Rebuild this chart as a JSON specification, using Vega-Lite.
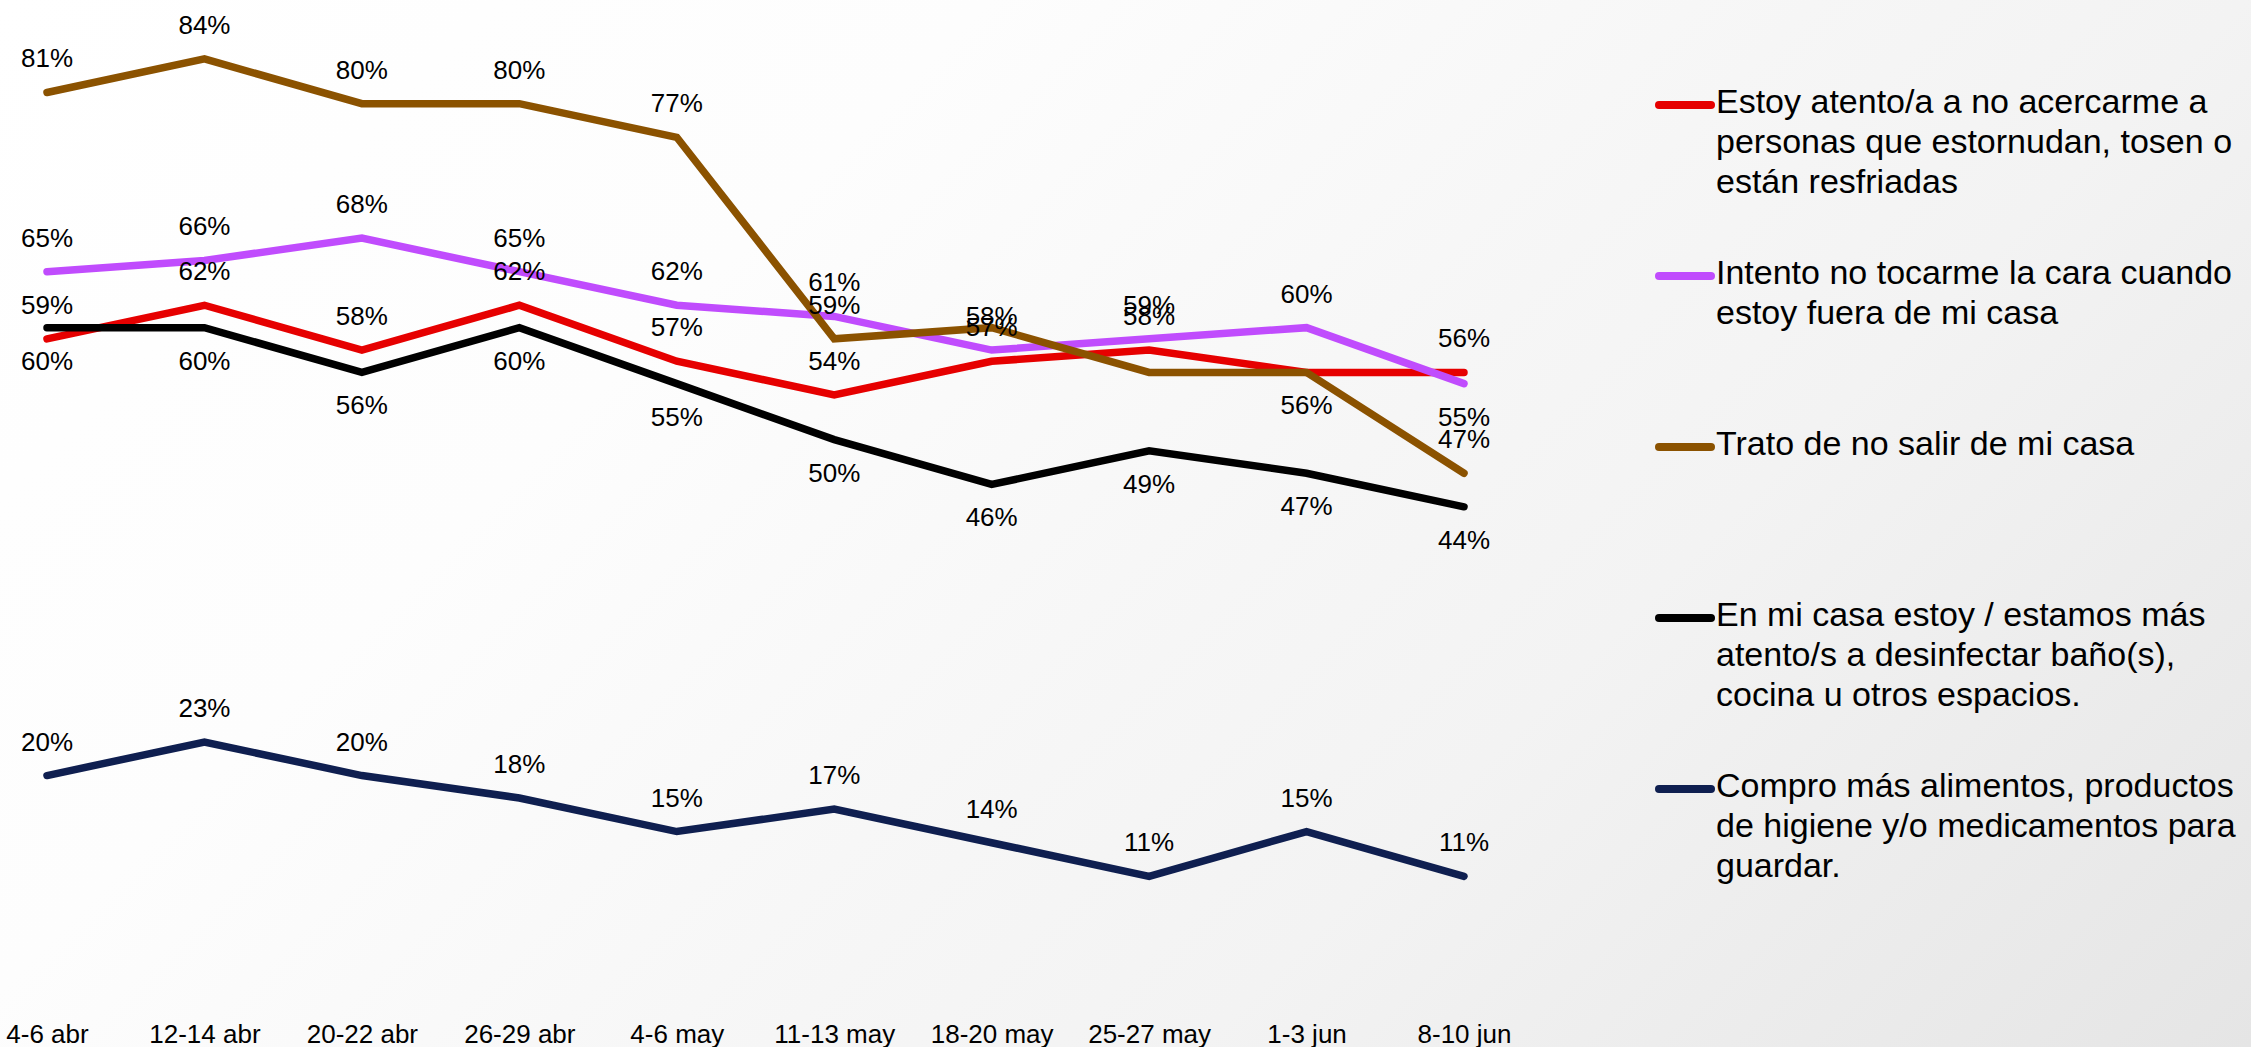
{
  "$schema": "https://vega.github.io/schema/vega-lite/v6.json",
  "width": 2251,
  "height": 1047,
  "autosize": {"type": "none"},
  "padding": 0,
  "background": "#ffffff",
  "config": {
    "view": {"stroke": null},
    "font": "Liberation Sans"
  },
  "datasets": {
    "series": [
      {"fecha": "4-6 abr", "serie": "Estoy atento/a a no acercarme a\npersonas que estornudan, tosen o\nestán resfriadas", "valor": 0.59},
      {"fecha": "12-14 abr", "serie": "Estoy atento/a a no acercarme a\npersonas que estornudan, tosen o\nestán resfriadas", "valor": 0.62},
      {"fecha": "20-22 abr", "serie": "Estoy atento/a a no acercarme a\npersonas que estornudan, tosen o\nestán resfriadas", "valor": 0.58},
      {"fecha": "26-29 abr", "serie": "Estoy atento/a a no acercarme a\npersonas que estornudan, tosen o\nestán resfriadas", "valor": 0.62},
      {"fecha": "4-6 may", "serie": "Estoy atento/a a no acercarme a\npersonas que estornudan, tosen o\nestán resfriadas", "valor": 0.57},
      {"fecha": "11-13 may", "serie": "Estoy atento/a a no acercarme a\npersonas que estornudan, tosen o\nestán resfriadas", "valor": 0.54},
      {"fecha": "18-20 may", "serie": "Estoy atento/a a no acercarme a\npersonas que estornudan, tosen o\nestán resfriadas", "valor": 0.57},
      {"fecha": "25-27 may", "serie": "Estoy atento/a a no acercarme a\npersonas que estornudan, tosen o\nestán resfriadas", "valor": 0.58},
      {"fecha": "1-3 jun", "serie": "Estoy atento/a a no acercarme a\npersonas que estornudan, tosen o\nestán resfriadas", "valor": 0.56},
      {"fecha": "8-10 jun", "serie": "Estoy atento/a a no acercarme a\npersonas que estornudan, tosen o\nestán resfriadas", "valor": 0.56},

      {"fecha": "4-6 abr", "serie": "Intento no tocarme la cara cuando\nestoy fuera de mi casa", "valor": 0.65},
      {"fecha": "12-14 abr", "serie": "Intento no tocarme la cara cuando\nestoy fuera de mi casa", "valor": 0.66},
      {"fecha": "20-22 abr", "serie": "Intento no tocarme la cara cuando\nestoy fuera de mi casa", "valor": 0.68},
      {"fecha": "26-29 abr", "serie": "Intento no tocarme la cara cuando\nestoy fuera de mi casa", "valor": 0.65},
      {"fecha": "4-6 may", "serie": "Intento no tocarme la cara cuando\nestoy fuera de mi casa", "valor": 0.62},
      {"fecha": "11-13 may", "serie": "Intento no tocarme la cara cuando\nestoy fuera de mi casa", "valor": 0.61},
      {"fecha": "18-20 may", "serie": "Intento no tocarme la cara cuando\nestoy fuera de mi casa", "valor": 0.58},
      {"fecha": "25-27 may", "serie": "Intento no tocarme la cara cuando\nestoy fuera de mi casa", "valor": 0.59},
      {"fecha": "1-3 jun", "serie": "Intento no tocarme la cara cuando\nestoy fuera de mi casa", "valor": 0.60},
      {"fecha": "8-10 jun", "serie": "Intento no tocarme la cara cuando\nestoy fuera de mi casa", "valor": 0.55},

      {"fecha": "4-6 abr", "serie": "Trato de no salir de mi casa", "valor": 0.81},
      {"fecha": "12-14 abr", "serie": "Trato de no salir de mi casa", "valor": 0.84},
      {"fecha": "20-22 abr", "serie": "Trato de no salir de mi casa", "valor": 0.80},
      {"fecha": "26-29 abr", "serie": "Trato de no salir de mi casa", "valor": 0.80},
      {"fecha": "4-6 may", "serie": "Trato de no salir de mi casa", "valor": 0.77},
      {"fecha": "11-13 may", "serie": "Trato de no salir de mi casa", "valor": 0.59},
      {"fecha": "18-20 may", "serie": "Trato de no salir de mi casa", "valor": 0.60},
      {"fecha": "25-27 may", "serie": "Trato de no salir de mi casa", "valor": 0.56},
      {"fecha": "1-3 jun", "serie": "Trato de no salir de mi casa", "valor": 0.56},
      {"fecha": "8-10 jun", "serie": "Trato de no salir de mi casa", "valor": 0.47},

      {"fecha": "4-6 abr", "serie": "En mi casa estoy / estamos más\natento/s a desinfectar baño(s),\ncocina u otros espacios.", "valor": 0.60},
      {"fecha": "12-14 abr", "serie": "En mi casa estoy / estamos más\natento/s a desinfectar baño(s),\ncocina u otros espacios.", "valor": 0.60},
      {"fecha": "20-22 abr", "serie": "En mi casa estoy / estamos más\natento/s a desinfectar baño(s),\ncocina u otros espacios.", "valor": 0.56},
      {"fecha": "26-29 abr", "serie": "En mi casa estoy / estamos más\natento/s a desinfectar baño(s),\ncocina u otros espacios.", "valor": 0.60},
      {"fecha": "4-6 may", "serie": "En mi casa estoy / estamos más\natento/s a desinfectar baño(s),\ncocina u otros espacios.", "valor": 0.55},
      {"fecha": "11-13 may", "serie": "En mi casa estoy / estamos más\natento/s a desinfectar baño(s),\ncocina u otros espacios.", "valor": 0.50},
      {"fecha": "18-20 may", "serie": "En mi casa estoy / estamos más\natento/s a desinfectar baño(s),\ncocina u otros espacios.", "valor": 0.46},
      {"fecha": "25-27 may", "serie": "En mi casa estoy / estamos más\natento/s a desinfectar baño(s),\ncocina u otros espacios.", "valor": 0.49},
      {"fecha": "1-3 jun", "serie": "En mi casa estoy / estamos más\natento/s a desinfectar baño(s),\ncocina u otros espacios.", "valor": 0.47},
      {"fecha": "8-10 jun", "serie": "En mi casa estoy / estamos más\natento/s a desinfectar baño(s),\ncocina u otros espacios.", "valor": 0.44},

      {"fecha": "4-6 abr", "serie": "Compro más alimentos, productos\nde higiene y/o medicamentos para\nguardar.", "valor": 0.20},
      {"fecha": "12-14 abr", "serie": "Compro más alimentos, productos\nde higiene y/o medicamentos para\nguardar.", "valor": 0.23},
      {"fecha": "20-22 abr", "serie": "Compro más alimentos, productos\nde higiene y/o medicamentos para\nguardar.", "valor": 0.20},
      {"fecha": "26-29 abr", "serie": "Compro más alimentos, productos\nde higiene y/o medicamentos para\nguardar.", "valor": 0.18},
      {"fecha": "4-6 may", "serie": "Compro más alimentos, productos\nde higiene y/o medicamentos para\nguardar.", "valor": 0.15},
      {"fecha": "11-13 may", "serie": "Compro más alimentos, productos\nde higiene y/o medicamentos para\nguardar.", "valor": 0.17},
      {"fecha": "18-20 may", "serie": "Compro más alimentos, productos\nde higiene y/o medicamentos para\nguardar.", "valor": 0.14},
      {"fecha": "25-27 may", "serie": "Compro más alimentos, productos\nde higiene y/o medicamentos para\nguardar.", "valor": 0.11},
      {"fecha": "1-3 jun", "serie": "Compro más alimentos, productos\nde higiene y/o medicamentos para\nguardar.", "valor": 0.15},
      {"fecha": "8-10 jun", "serie": "Compro más alimentos, productos\nde higiene y/o medicamentos para\nguardar.", "valor": 0.11}
    ]
  },
  "layer": [
    {
      "data": {"values": [{"fondo": 1}]},
      "mark": {
        "type": "rect",
        "fill": {
          "gradient": "linear",
          "x1": 0, "y1": 0, "x2": 1.205, "y2": 0.56,
          "stops": [
            {"offset": 0, "color": "#ffffff"},
            {"offset": 0.3, "color": "#fdfdfd"},
            {"offset": 0.55, "color": "#f6f6f6"},
            {"offset": 0.68, "color": "#f3f3f3"},
            {"offset": 1, "color": "#e5e5e5"}
          ]
        }
      },
      "encoding": {}
    },
    {
      "data": {"name": "series"},
      "mark": {"type": "line", "strokeWidth": 7.5, "strokeCap": "round"},
      "encoding": {
        "x": {
          "field": "fecha", "type": "ordinal", "sort": null,
          "scale": {"type": "point", "range": [47, 1464], "padding": 0},
          "axis": {
            "title": null, "domain": false, "ticks": false, "tickSize": 0, "grid": false,
            "labelPadding": 0, "offset": -26, "labelAngle": 0, "zindex": 2,
            "labelFont": "Liberation Sans", "labelFontSize": 26, "labelColor": "#000000"
          }
        },
        "y": {
          "field": "valor", "type": "quantitative",
          "scale": {"domain": [-0.0424, 0.8926], "nice": false, "zero": false},
          "axis": null
        },
        "color": {
          "field": "serie", "type": "nominal",
          "scale": {
            "domain": [
              "Estoy atento/a a no acercarme a\npersonas que estornudan, tosen o\nestán resfriadas",
              "Intento no tocarme la cara cuando\nestoy fuera de mi casa",
              "Trato de no salir de mi casa",
              "En mi casa estoy / estamos más\natento/s a desinfectar baño(s),\ncocina u otros espacios.",
              "Compro más alimentos, productos\nde higiene y/o medicamentos para\nguardar."
            ],
            "range": ["#e60000", "#c04cfd", "#8b5200", "#000000", "#0f1f50"]
          },
          "legend": {
            "orient": "none", "legendX": 1655, "legendY": 75, "title": null,
            "padding": 0, "gridAlign": "all", "rowPadding": 46,
            "symbolType": "stroke", "symbolSize": 2704, "symbolStrokeWidth": 8,
            "labelFont": "Liberation Sans", "labelFontSize": 34, "labelColor": "#000000",
            "labelLimit": 0, "labelBaseline": "top", "labelOffset": 1,
            "labelExpr": "split(datum.label, '\\n')",
            "encode": {
              "labels": {"update": {"dy": {"value": -19}, "lineHeight": {"value": 40}}},
              "symbols": {"update": {"strokeCap": {"value": "round"}}}
            }
          }
        }
      }
    },
    {
      "data": {"name": "series"},
      "transform": [
        {"filter": "indexof(datum.serie, 'En mi casa') != 0 && !(indexof(datum.serie, 'Trato') == 0 && (datum.fecha == '18-20 may' || datum.fecha == '25-27 may' || datum.fecha == '1-3 jun')) && !(indexof(datum.serie, 'Intento') == 0 && datum.fecha == '8-10 jun') && !(indexof(datum.serie, 'Estoy') == 0 && datum.fecha == '1-3 jun')"}
      ],
      "mark": {"type": "text", "dy": -33, "baseline": "middle", "align": "center", "font": "Liberation Sans", "fontSize": 26, "color": "#000000"},
      "encoding": {
        "x": {"field": "fecha", "type": "ordinal", "sort": null},
        "y": {"field": "valor", "type": "quantitative"},
        "text": {"field": "valor", "type": "quantitative", "format": ".0%"}
      }
    },
    {
      "data": {"name": "series"},
      "transform": [
        {"filter": "indexof(datum.serie, 'En mi casa') == 0 || (indexof(datum.serie, 'Trato') == 0 && datum.fecha == '1-3 jun') || (indexof(datum.serie, 'Intento') == 0 && datum.fecha == '8-10 jun')"}
      ],
      "mark": {"type": "text", "dy": 34, "baseline": "middle", "align": "center", "font": "Liberation Sans", "fontSize": 26, "color": "#000000"},
      "encoding": {
        "x": {"field": "fecha", "type": "ordinal", "sort": null},
        "y": {"field": "valor", "type": "quantitative"},
        "text": {"field": "valor", "type": "quantitative", "format": ".0%"}
      }
    }
  ]
}
